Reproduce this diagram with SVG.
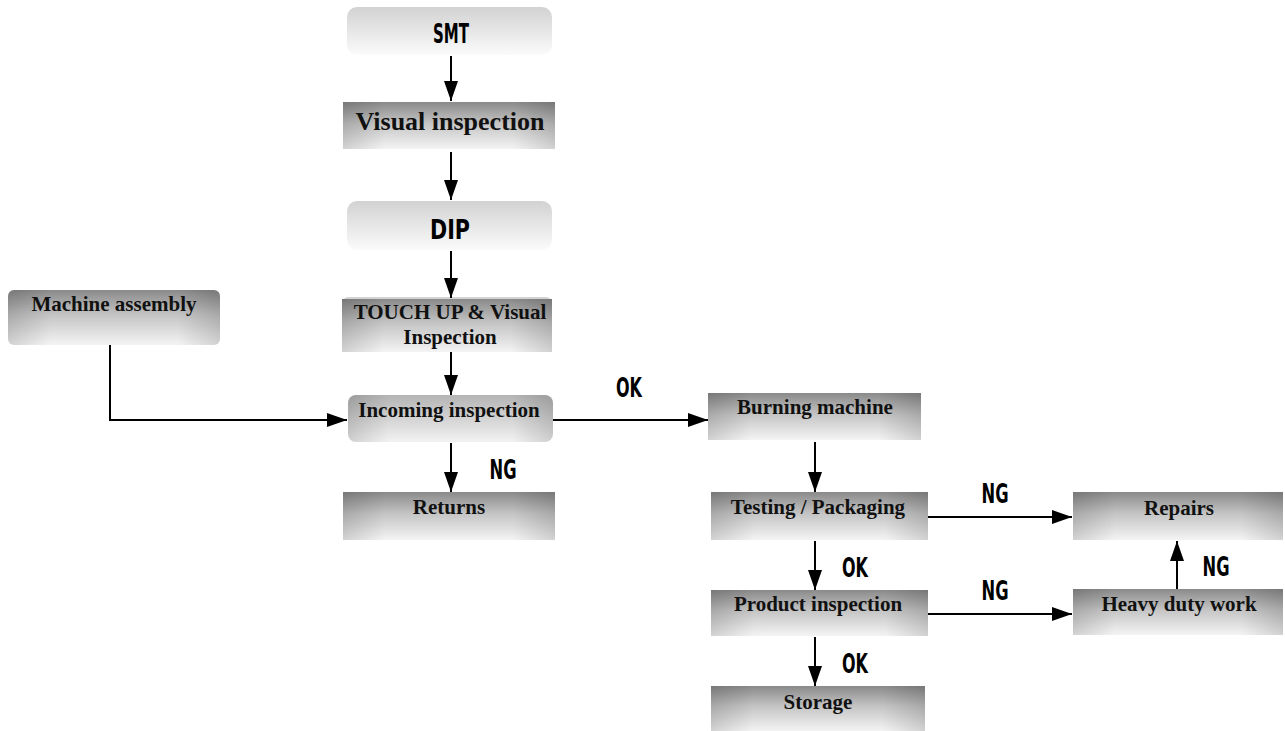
<svg xmlns="http://www.w3.org/2000/svg" width="1285" height="731" viewBox="0 0 1285 731">
<defs>
<linearGradient id="gDark" x1="0" y1="0" x2="0" y2="1">
<stop offset="0" stop-color="#8a8a8a"/>
<stop offset="0.45" stop-color="#c4c4c4"/>
<stop offset="1" stop-color="#f4f4f4"/>
</linearGradient>
<linearGradient id="gEdge" x1="0" y1="0" x2="1" y2="0">
<stop offset="0" stop-color="#000" stop-opacity="0.14"/>
<stop offset="0.2" stop-color="#000" stop-opacity="0"/>
<stop offset="0.8" stop-color="#000" stop-opacity="0"/>
<stop offset="1" stop-color="#000" stop-opacity="0.14"/>
</linearGradient>
<linearGradient id="gLight" x1="0" y1="0" x2="0" y2="1">
<stop offset="0" stop-color="#d2d2d2"/>
<stop offset="1" stop-color="#fbfbfb"/>
</linearGradient>
<linearGradient id="gMid" x1="0" y1="0" x2="0" y2="1">
<stop offset="0" stop-color="#b4b4b4"/>
<stop offset="1" stop-color="#f2f2f2"/>
</linearGradient>
<marker id="arrV" viewBox="0 0 20 14" refX="20" refY="7" markerWidth="20" markerHeight="14" markerUnits="userSpaceOnUse" orient="auto">
<path d="M0,0 L20,7 L0,14 z" fill="#000"/>
</marker>
</defs>
<style>
.box{fill:url(#gDark)}
.edge{fill:url(#gEdge)}
.light{fill:url(#gLight)}
.mid{fill:url(#gMid)}
.t{font-family:"Liberation Serif","Times New Roman",serif;font-weight:bold;font-size:21px;fill:#111;text-anchor:middle}
.big{font-size:26px}
.c{font-family:"DejaVu Sans Condensed","Liberation Sans Narrow","Liberation Sans",sans-serif;font-weight:bold;font-size:26px;fill:#000;text-anchor:middle}
.ln{stroke:#000;stroke-width:2;fill:none}
</style>
<rect width="1285" height="731" fill="#fff"/>

<g id="n-smt">
<rect x="347" y="7" width="205" height="48" rx="10" class="light"/>
<text x="451" y="43" class="c" textLength="36" lengthAdjust="spacingAndGlyphs" font-weight="normal" font-size="27">SMT</text>
</g>
<g id="n-visual">
<rect x="343" y="102" width="212" height="47" class="box"/>
<rect x="343" y="102" width="212" height="47" class="edge"/>
<text x="450" y="130" class="t big">Visual inspection</text>
</g>
<g id="n-dip">
<rect x="347" y="201" width="205" height="49" rx="10" class="light"/>
<text x="450" y="239" class="c" textLength="40" lengthAdjust="spacingAndGlyphs" font-weight="normal" font-size="27">DIP</text>
</g>
<g id="n-touch">
<rect x="342" y="297" width="210" height="55" rx="6" class="light"/>
<rect x="342" y="299" width="210" height="53" class="box"/>
<rect x="342" y="299" width="210" height="53" class="edge"/>
<text x="450" y="319" class="t">TOUCH UP &amp; Visual</text>
<text x="450" y="344" class="t">Inspection</text>
</g>
<g id="n-machine">
<rect x="8" y="290" width="212" height="55" rx="6" class="box"/>
<rect x="8" y="290" width="212" height="55" rx="6" class="edge"/>
<text x="114" y="311" class="t">Machine assembly</text>
</g>
<g id="n-incoming">
<rect x="348" y="395" width="205" height="47" rx="8" class="mid"/>
<rect x="348" y="395" width="205" height="47" rx="8" class="edge"/>
<text x="449" y="417" class="t">Incoming inspection</text>
</g>
<g id="n-returns">
<rect x="343" y="492" width="212" height="48" class="box"/>
<rect x="343" y="492" width="212" height="48" class="edge"/>
<text x="449" y="514" class="t">Returns</text>
</g>
<g id="n-burning">
<rect x="708" y="393" width="213" height="47" class="box"/>
<rect x="708" y="393" width="213" height="47" class="edge"/>
<text x="815" y="414" class="t">Burning machine</text>
</g>
<g id="n-testing">
<rect x="711" y="492" width="217" height="48" class="box"/>
<rect x="711" y="492" width="217" height="48" class="edge"/>
<text x="818" y="514" class="t">Testing / Packaging</text>
</g>
<g id="n-product">
<rect x="711" y="590" width="217" height="46" class="box"/>
<rect x="711" y="590" width="217" height="46" class="edge"/>
<text x="818" y="611" class="t">Product inspection</text>
</g>
<g id="n-storage">
<rect x="711" y="686" width="214" height="45" class="box"/>
<rect x="711" y="686" width="214" height="45" class="edge"/>
<text x="818" y="709" class="t">Storage</text>
</g>
<g id="n-repairs">
<rect x="1073" y="492" width="210" height="48" class="box"/>
<rect x="1073" y="492" width="210" height="48" class="edge"/>
<text x="1179" y="515" class="t">Repairs</text>
</g>
<g id="n-heavy">
<rect x="1073" y="589" width="210" height="46" class="box"/>
<rect x="1073" y="589" width="210" height="46" class="edge"/>
<text x="1179" y="611" class="t">Heavy duty work</text>
</g>

<g id="connectors">
<line x1="451" y1="56" x2="451" y2="101" class="ln" marker-end="url(#arrV)"/>
<line x1="451" y1="152" x2="451" y2="200" class="ln" marker-end="url(#arrV)"/>
<line x1="451" y1="251" x2="451" y2="298" class="ln" marker-end="url(#arrV)"/>
<line x1="451" y1="352" x2="451" y2="395" class="ln" marker-end="url(#arrV)"/>
<line x1="451" y1="443" x2="451" y2="492" class="ln" marker-end="url(#arrV)"/>
<polyline points="110,345 110,420 347,420" class="ln" marker-end="url(#arrV)"/>
<line x1="553" y1="420" x2="708" y2="420" class="ln" marker-end="url(#arrV)"/>
<line x1="815" y1="442" x2="815" y2="492" class="ln" marker-end="url(#arrV)"/>
<line x1="815" y1="541" x2="815" y2="590" class="ln" marker-end="url(#arrV)"/>
<line x1="815" y1="637" x2="815" y2="686" class="ln" marker-end="url(#arrV)"/>
<line x1="928" y1="517" x2="1072" y2="517" class="ln" marker-end="url(#arrV)"/>
<line x1="928" y1="614" x2="1072" y2="614" class="ln" marker-end="url(#arrV)"/>
<line x1="1177" y1="589" x2="1177" y2="541" class="ln" marker-end="url(#arrV)"/>
<text x="629" y="397" class="c" textLength="26" lengthAdjust="spacingAndGlyphs">OK</text>
<text x="503" y="479" class="c" textLength="27" lengthAdjust="spacingAndGlyphs">NG</text>
<text x="855" y="577" class="c" textLength="26" lengthAdjust="spacingAndGlyphs">OK</text>
<text x="855" y="673" class="c" textLength="26" lengthAdjust="spacingAndGlyphs">OK</text>
<text x="995" y="503" class="c" textLength="27" lengthAdjust="spacingAndGlyphs">NG</text>
<text x="995" y="600" class="c" textLength="27" lengthAdjust="spacingAndGlyphs">NG</text>
<text x="1216" y="576" class="c" textLength="27" lengthAdjust="spacingAndGlyphs">NG</text>
</g>
</svg>
